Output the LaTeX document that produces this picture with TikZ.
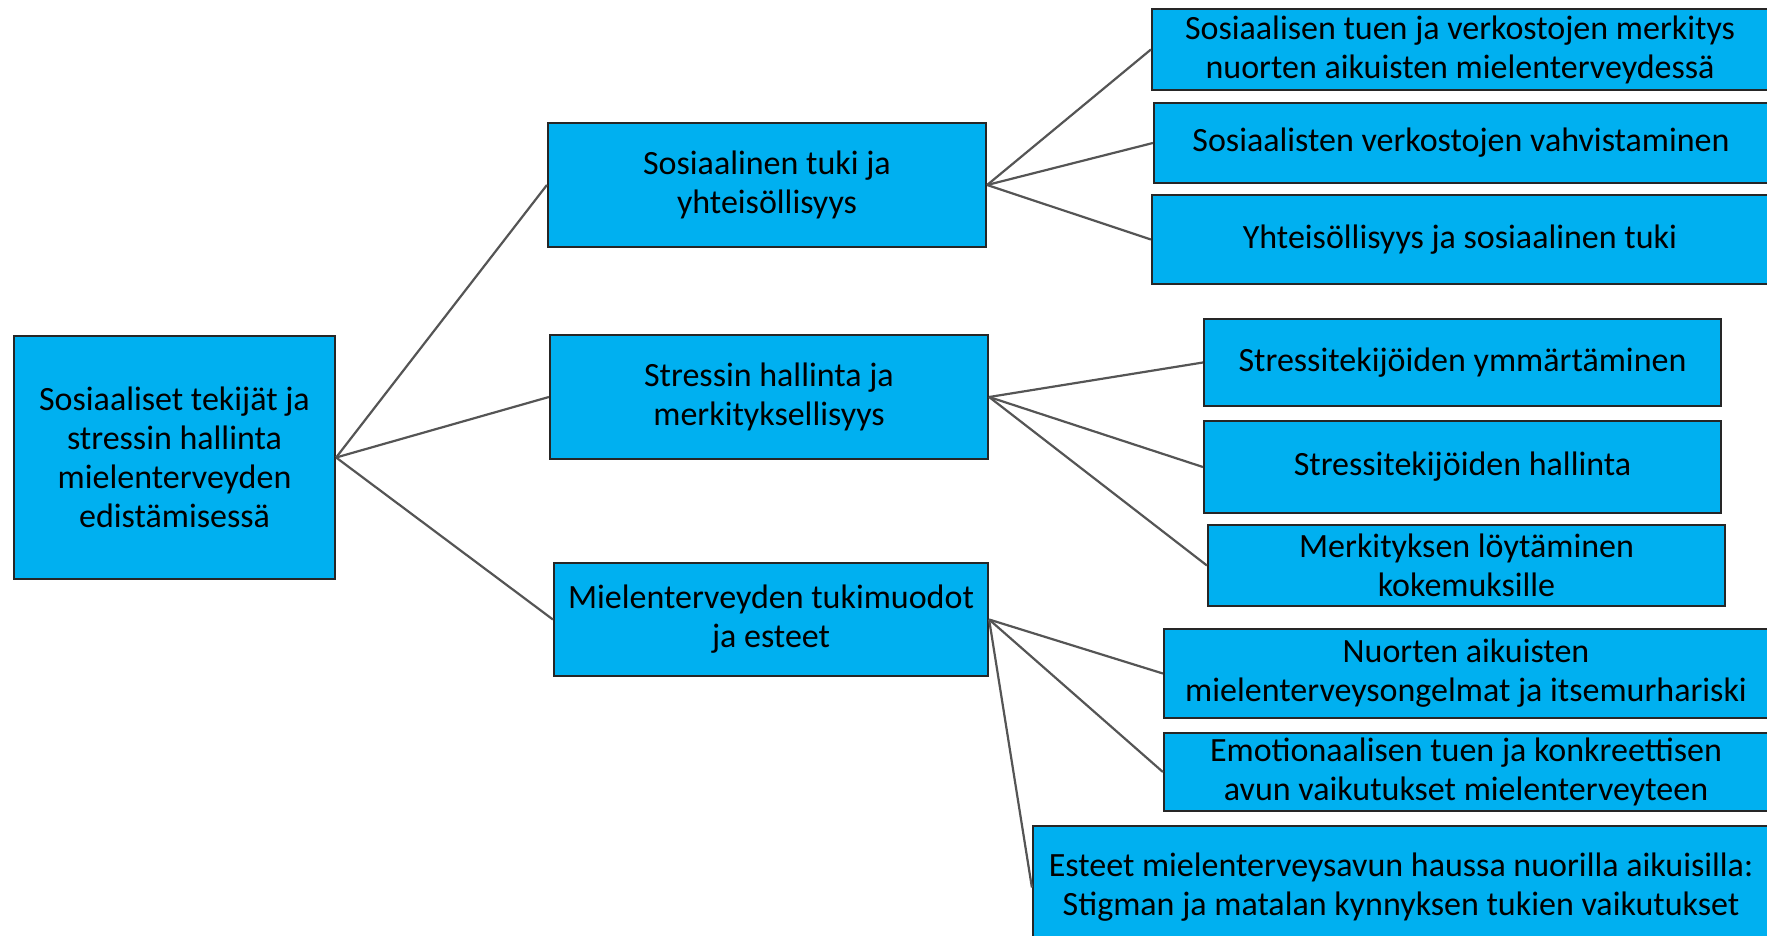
\documentclass[tikz,border=0pt]{standalone}
\usepackage{fontspec}
\setmainfont{Carlito}
\usepackage{tikz}
\usetikzlibrary{positioning}
\definecolor{boxblue}{HTML}{00B0F0}
\definecolor{linegray}{HTML}{555555}
\tikzstyle{topic} = [rectangle, draw=black!85, line width=1.1pt, fill=boxblue, text centered, align=center, inner sep=0pt, font=\fontsize{17}{19.5}\selectfont]
\tikzstyle{link} = [draw=linegray, line width=1.1pt]

\begin{document}
\begin{tikzpicture}[x=0.5pt, y=-0.5pt]
\useasboundingbox (0,0) rectangle (1767,936);
% main topic
\node (root) [topic, minimum width=160.5pt, minimum height=121.5pt] at (174.5,457.5) {Sosiaaliset tekijät ja\\stressin hallinta\\mielenterveyden\\edistämisessä};
% themes
\node (tuki) [topic, minimum width=219pt, minimum height=62pt] at (767,185) {Sosiaalinen tuki ja\\yhteisöllisyys};
\node (stressi) [topic, minimum width=219pt, minimum height=62pt] at (769,397) {Stressin hallinta ja\\merkityksellisyys};
\node (tukimuodot) [topic, minimum width=217pt, minimum height=56.5pt] at (771,619.5) {Mielenterveyden tukimuodot\\ja esteet};
% subthemes
\node (tuki1) [topic, minimum width=308pt, minimum height=40.5pt] at (1460,49.5) {Sosiaalisen tuen ja verkostojen merkitys\\nuorten aikuisten mielenterveydessä};
\node (tuki2) [topic, minimum width=307pt, minimum height=40pt] at (1461,143) {Sosiaalisten verkostojen vahvistaminen};
\node (tuki3) [topic, minimum width=308pt, minimum height=44.5pt] at (1460,239.5) {Yhteisöllisyys ja sosiaalinen tuki};
\node (stressi1) [topic, minimum width=258.5pt, minimum height=43.5pt] at (1462.5,362.5) {Stressitekijöiden ymmärtäminen};
\node (stressi2) [topic, minimum width=258.5pt, minimum height=46pt] at (1462.5,467) {Stressitekijöiden hallinta};
\node (stressi3) [topic, minimum width=258.5pt, minimum height=40.5pt] at (1466.5,565.5) {Merkityksen löytäminen\\kokemuksille};
\node (tukimuodot1) [topic, minimum width=302pt, minimum height=44.5pt] at (1466,673.5) {Nuorten aikuisten\\mielenterveysongelmat ja itsemurhariski};
\node (tukimuodot2) [topic, minimum width=302pt, minimum height=39pt] at (1466,772) {Emotionaalisen tuen ja konkreettisen\\avun vaikutukset mielenterveyteen};
\node (tukimuodot3) [topic, minimum width=368pt, minimum height=61.5pt] at (1401,887.5) {Esteet mielenterveysavun haussa nuorilla aikuisilla:\\Stigman ja matalan kynnyksen tukien vaikutukset};
% connectors
\draw [link] (root.east) -- (tuki.west);
\draw [link] (root.east) -- (stressi.west);
\draw [link] (root.east) -- (tukimuodot.west);
\draw [link] (tuki.east) -- (tuki1.west);
\draw [link] (tuki.east) -- (tuki2.west);
\draw [link] (tuki.east) -- (tuki3.west);
\draw [link] (stressi.east) -- (stressi1.west);
\draw [link] (stressi.east) -- (stressi2.west);
\draw [link] (stressi.east) -- (stressi3.west);
\draw [link] (tukimuodot.east) -- (tukimuodot1.west);
\draw [link] (tukimuodot.east) -- (tukimuodot2.west);
\draw [link] (tukimuodot.east) -- (tukimuodot3.west);
\end{tikzpicture}
\end{document}
